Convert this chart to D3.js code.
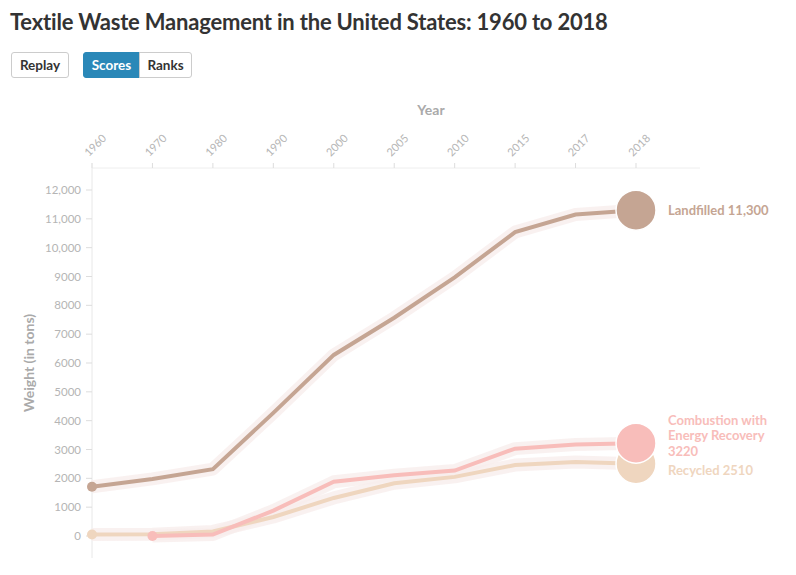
<!DOCTYPE html>
<html>
<head>
<meta charset="utf-8">
<script src="https://cdn.jsdelivr.net/npm/d3@7"></script>
<style>
body { margin: 0; background: #fff; font-family: Lato, "Open Sans", sans-serif; }
h1 { position: absolute; left: 10px; top: 8px; margin: 0; font-size: 22px; font-weight: 700; color: #333; letter-spacing: -0.2px; }
.btn { position: absolute; top: 52px; height: 26px; box-sizing: border-box; border: 1px solid #ccc; background: #fff; color: #333;
  font: 700 13.5px Lato, sans-serif; display: flex; align-items: center; justify-content: center; }
svg { position: absolute; left: 0; top: 0; }
</style>
</head>
<body>
<h1>Textile Waste Management in the United States: 1960 to 2018</h1>
<div class="btn" style="left:11px;width:58px;border-radius:3px;">Replay</div>
<div class="btn" style="left:83px;width:57px;border-radius:3px 0 0 3px;background:#2a88b8;border-color:#2a88b8;color:#fff;">Scores</div>
<div class="btn" style="left:139px;width:53px;border-radius:0 3px 3px 0;">Ranks</div>
<svg width="796" height="575"></svg>
<script>
const years = ['1960', '1970', '1980', '1990', '2000', '2005', '2010', '2015', '2017', '2018'];
const landfilled = [1710, 1980, 2320, 4270, 6280, 7570, 8970, 10540, 11150, 11300];
const combustion = [null, 0, 50, 880, 1880, 2110, 2270, 3030, 3170, 3220];
const recycled = [50, 60, 160, 660, 1320, 1830, 2050, 2460, 2570, 2510];
const seriesNames = ['Landfilled', 'Recycled', 'Combustion with Energy Recovery'];
const seriesColors = ['#c5a593', '#efd6bf', '#f8bdba'];
const yTicks = [0, 1000, 2000, 3000, 4000, 5000, 6000, 7000, 8000, 9000, 10000, 11000, 12000];

const plotLeft = 92, plotRight = 636, plotTop = 168, plotBottom = 536;

var svg = d3.select('svg');
var x = d3.scalePoint().domain(years).range([plotLeft, plotRight]);
var y = d3.scaleLinear().domain([0, 12000]).range([plotBottom, 190]);

var series = [landfilled, recycled, combustion].map((vals, i) => ({
	name: seriesNames[i],
	color: seriesColors[i],
	values: years.map((yr, j) => ({year: yr, value: vals[j]})).filter(d => d.value != null)
}));

// top axis line + ticks
svg.append('line').attr('x1', plotLeft).attr('x2', 700).attr('y1', plotTop).attr('y2', plotTop)
	.style('stroke', '#eee');
var xg = svg.append('g').selectAll('g').data(years).enter().append('g')
	.attr('transform', d => 'translate(' + x(d) + ',' + plotTop + ')');
xg.append('line').attr('y1', 0).attr('y2', -5).style('stroke', '#ddd');
xg.append('text').text(d => d)
	.attr('transform', 'translate(-3,-11) rotate(-45)')
	.style('font-size', '11px').style('fill', '#b5b5b5');
svg.append('text').text('Year').attr('x', 431).attr('y', 115).attr('text-anchor', 'middle')
	.style('font-size', '14px').style('font-weight', 700).style('fill', '#aaa');

// left axis
svg.append('line').attr('x1', plotLeft).attr('x2', plotLeft).attr('y1', 163).attr('y2', 558)
	.style('stroke', '#e8e8e8');
var yg = svg.append('g').selectAll('g').data(yTicks).enter().append('g')
	.attr('transform', d => 'translate(' + plotLeft + ',' + y(d) + ')');
yg.append('line').attr('x1', -6).attr('x2', 0).style('stroke', '#ddd');
yg.append('text').text(d => d >= 10000 ? d3.format(',')(d) : d)
	.attr('x', -11).attr('dy', '0.35em').attr('text-anchor', 'end')
	.style('font-size', '11.5px').style('fill', '#b5b5b5');
svg.append('text').text('Weight (in tons)')
	.attr('transform', 'translate(34,' + 363 + ') rotate(-90)').attr('text-anchor', 'middle')
	.style('font-size', '14px').style('font-weight', 700).style('fill', '#aaa');

var line = d3.line().x(d => x(d.year)).y(d => y(d.value));

// halos
svg.append('g').selectAll('path').data(series).enter().append('path')
	.attr('d', d => line(d.values)).style('fill', 'none')
	.style('stroke', '#f7eeec').style('stroke-width', 13).style('stroke-linejoin', 'round').style('opacity', 0.8);
// lines
svg.append('g').selectAll('path').data(series).enter().append('path')
	.attr('d', d => line(d.values)).style('fill', 'none')
	.style('stroke', d => d.color).style('stroke-width', 4);
// start dots
svg.append('g').selectAll('circle').data(series).enter().append('circle')
	.attr('cx', d => x(d.values[0].year)).attr('cy', d => y(d.values[0].value))
	.attr('r', 5).style('fill', d => d.color);
// end circles
svg.append('g').selectAll('circle').data(series).enter().append('circle')
	.attr('cx', d => x(d.values[d.values.length - 1].year)).attr('cy', d => y(d.values[d.values.length - 1].value))
	.attr('r', 20).style('fill', d => d.color).style('stroke', '#fff').style('stroke-width', 1.5);

// end labels
var lineH = 15.5;
var labels = svg.append('g').selectAll('text').data(series).enter().append('text')
	.attr('x', 668).style('font-size', '13px').style('font-weight', 700)
	.style('fill', d => d.color);
labels.each(function(d){
	var last = d.values[d.values.length - 1];
	var words = (d.name + ' ' + d3.format(last.value >= 10000 ? ',' : '')(last.value)).split(' ');
	var el = d3.select(this), lines = [], cur = [];
	var probe = el.append('tspan');
	words.forEach(w => {
		probe.text(cur.concat(w).join(' '));
		if (cur.length && probe.node().getComputedTextLength() > 116) { lines.push(cur.join(' ')); cur = [w]; }
		else cur.push(w);
	});
	lines.push(cur.join(' '));
	probe.remove();
	d.lines = lines;
	d.cy = y(last.value);
	d.h = lines.length * lineH;
});
// push overlapping labels apart
var sorted = series.slice().sort((a, b) => a.cy - b.cy);
for (var k = 0; k < 20; k++) {
	for (var i = 1; i < sorted.length; i++) {
		var a = sorted[i - 1], b = sorted[i];
		var over = (a.cy + a.h / 2 + 4) - (b.cy - b.h / 2);
		if (over > 0) { a.cy -= over / 2; b.cy += over / 2; }
	}
}
labels.each(function(d){
	var el = d3.select(this);
	var y0 = d.cy - d.h / 2 + lineH / 2;
	d.lines.forEach((t, i) => {
		el.append('tspan').attr('x', 668).attr('y', y0 + i * lineH).attr('dy', '0.35em').text(t);
	});
});
</script>
</body>
</html>
